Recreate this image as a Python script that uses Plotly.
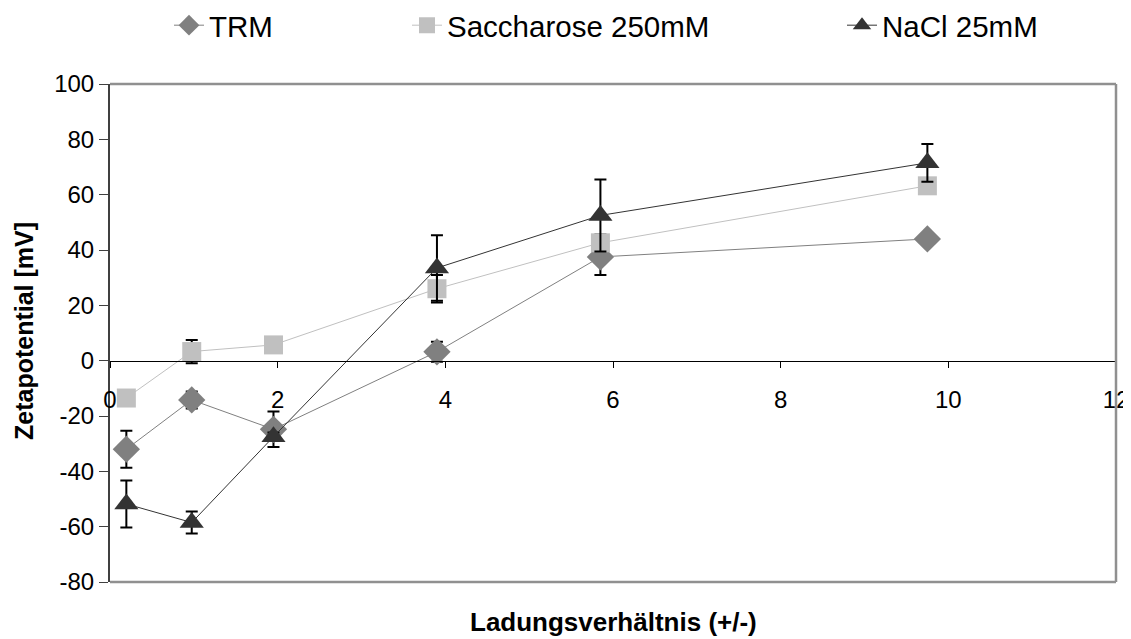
import plotly.graph_objects as go

x_vals = [0.195, 0.975, 1.95, 3.9, 5.85, 9.75]

trm_y = [-32, -14.2, -24.8, 3.2, 37.5, 44]
trm_err = [6.7, 3.1, 6.4, 3.6, 6.5, 1.2]

sac_y = [-13.5, 3.3, 5.7, 26, 42.6, 63.2]
sac_err = [1, 4.2, 1, 5, 3, 1]

nacl_y = [-51.8, -58.5, -27.5, 33.5, 52.5, 71.5]
nacl_err = [8.5, 4, 1.5, 11.8, 13, 6.8]

x_ticks = [0, 2, 4, 6, 8, 10, 12]
y_ticks = [-80, -60, -40, -20, 0, 20, 40, 60, 80, 100]

FONT = "Arial, 'Liberation Sans', sans-serif"

def err(arr):
    return dict(type="data", array=arr, visible=True, color="black",
                thickness=2, width=6)

fig = go.Figure()
fig.add_trace(go.Scatter(
    x=x_vals, y=trm_y, name="TRM", mode="lines+markers",
    line=dict(color="#808080", width=1),
    marker=dict(symbol="diamond", size=21, color="#808080"),
    error_y=err(trm_err), legend="legend"))
fig.add_trace(go.Scatter(
    x=x_vals, y=sac_y, name="Saccharose 250mM", mode="lines+markers",
    line=dict(color="#c0c0c0", width=1),
    marker=dict(symbol="square", size=19, color="#c0c0c0"),
    error_y=err(sac_err), legend="legend2"))
fig.add_trace(go.Scatter(
    x=x_vals, y=nacl_y, name="NaCl 25mM", mode="lines+markers",
    line=dict(color="#333333", width=1),
    marker=dict(symbol="triangle-up", size=21, color="#333333"),
    error_y=err(nacl_err), legend="legend3"))

# page body margin offset (browser default 8px)
OFF = 8
W, H = 1131 - OFF, 639 - OFF
L, R, T, B = 110 - OFF, 15, 84 - OFF, 57
pw = W - L - R
ph = H - T - B

def px2x(px):
    return (px - OFF - L) / pw

def py2y(py):
    return (H - B - (py - OFF)) / ph

leg_common = dict(orientation="h", yanchor="middle", y=py2y(25.5), xanchor="left",
                  font=dict(family=FONT, size=29.5, color="black"),
                  bgcolor="rgba(0,0,0,0)")

fig.update_layout(
    width=W, height=H,
    margin=dict(l=L, r=R, t=T, b=B, autoexpand=False),
    paper_bgcolor="white", plot_bgcolor="white",
    font=dict(family=FONT, color="black"),
    showlegend=True,
    legend=dict(x=px2x(169), **leg_common),
    legend2=dict(x=px2x(407), **leg_common),
    legend3=dict(x=px2x(842), **leg_common),
    xaxis=dict(range=[0, 12], tickvals=x_ticks, ticktext=[str(v) for v in x_ticks],
               anchor="free", position=80 / 180, showline=True, linecolor="black",
               linewidth=1, ticks="outside", ticklen=6, tickcolor="black",
               showgrid=False, zeroline=False, ticklabelstandoff=12,
               tickfont=dict(family=FONT, size=24, color="black")),
    yaxis=dict(range=[-80, 100], tickvals=y_ticks, ticktext=[str(v) for v in y_ticks],
               showline=True, linecolor="#404040", linewidth=2, ticks="outside",
               ticklen=9, tickcolor="#404040", showgrid=False, zeroline=False,
               tickfont=dict(family=FONT, size=24, color="black")),
    shapes=[
        dict(type="line", xref="paper", yref="paper", x0=0, x1=1, y0=1, y1=1,
             line=dict(color="#909090", width=2.5)),
        dict(type="line", xref="paper", yref="paper", x0=1, x1=1, y0=0, y1=1,
             line=dict(color="#909090", width=2.5)),
        dict(type="line", xref="paper", yref="paper", x0=0, x1=1, y0=0, y1=0,
             line=dict(color="#909090", width=2.5)),
    ],
    annotations=[
        dict(text="<b>Ladungsverhältnis (+/-)</b>", xref="paper", yref="paper",
             x=px2x(613), y=py2y(622), xanchor="center", yanchor="middle",
             showarrow=False, font=dict(family=FONT, size=26, color="black")),
        dict(text="<b>Zetapotential [mV]</b>", xref="paper", yref="paper",
             x=px2x(24), y=py2y(331), xanchor="center", yanchor="middle",
             textangle=-90, showarrow=False,
             font=dict(family=FONT, size=25, color="black")),
    ],
)

fig.write_html("out.html")
